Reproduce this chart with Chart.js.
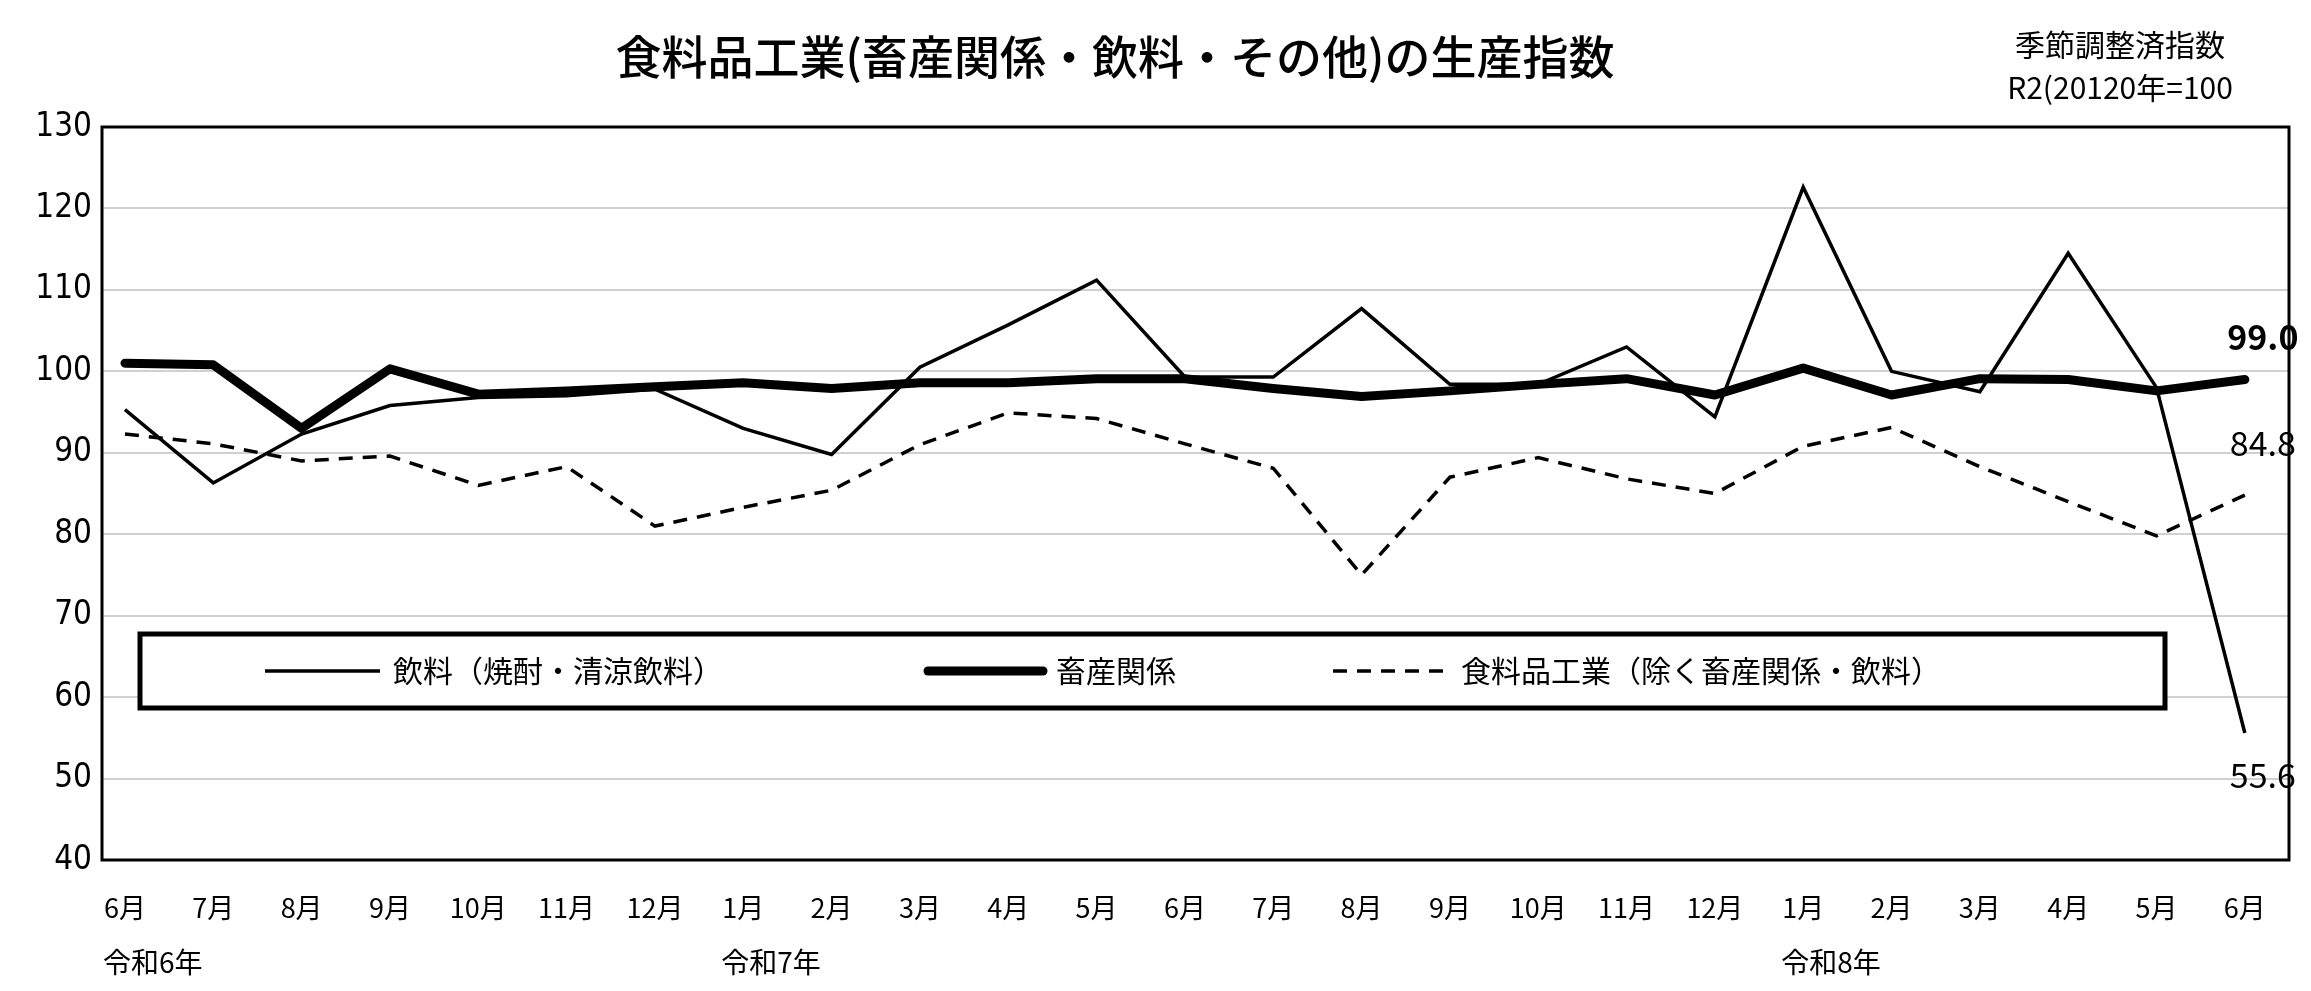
<!DOCTYPE html>
<html><head><meta charset="utf-8">
<script src="https://cdn.jsdelivr.net/npm/chart.js@4"></script>
<style>html,body{margin:0;padding:0;background:#fff}#w{width:2311px;height:991px}</style>
</head><body><div id="w"><canvas id="c"></canvas></div>
<script>
const months = ['6月','7月','8月','9月','10月','11月','12月','1月','2月','3月','4月','5月','6月','7月','8月','9月','10月','11月','12月','1月','2月','3月','4月','5月','6月'];
const yearLabels = [[0,'令和6年'],[7,'令和7年'],[19,'令和8年']];
const drinks = [95.3,86.3,92.3,95.8,96.8,97.0,97.8,93.0,89.8,100.5,105.7,111.2,99.3,99.3,107.7,98.4,98.4,103.0,94.4,122.6,100.0,97.5,114.5,98.0,55.6];
const livestock = [101.0,100.8,93.0,100.3,97.2,97.6,98.1,98.6,97.9,98.6,98.6,99.1,99.1,97.9,96.9,97.6,98.4,99.1,97.1,100.4,97.1,99.1,99.0,97.6,99.0];
const foodOther = [92.3,91.1,89.0,89.6,86.0,88.3,81.0,83.3,85.4,91.0,94.9,94.2,91.1,88.1,75.0,87.0,89.4,86.8,85.0,90.8,93.1,88.3,84.0,79.8,84.8];
const names = ['飲料（焼酎・清涼飲料）','畜産関係','食料品工業（除く畜産関係・飲料）'];
const FONT = '"Noto Sans CJK JP", sans-serif';
const pts = a => a.map((v,i)=>({x:i,y:v}));

const deco = {
  id:'deco',
  afterDraw(ch){
    const c = ch.ctx, a = ch.chartArea, xs = ch.scales.x, ys = ch.scales.y;
    c.save();
    c.strokeStyle='#000'; c.lineWidth=3; c.strokeRect(a.left,a.top,a.right-a.left,a.bottom-a.top);
    c.fillStyle='#000'; c.textBaseline='middle';
    c.font='500 46px '+FONT; c.textAlign='center';
    c.fillText('食料品工業(畜産関係・飲料・その他)の生産指数',1115,57);
    c.font='30px '+FONT;
    c.fillText('季節調整済指数',2120,45); c.fillText('R2(20120年=100',2120,88);
    c.textAlign='left'; c.font='28px '+FONT;
    yearLabels.forEach(([i,t])=>c.fillText(t, xs.getPixelForValue(i)-22, 962));
    const xe = xs.getPixelForValue(24);
    c.textAlign='center'; c.font='bold 34px '+FONT;
    c.fillText(livestock[24].toFixed(1), xe+18, ys.getPixelForValue(livestock[24])-42);
    c.font='34px '+FONT;
    c.fillText(foodOther[24].toFixed(1), xe+18, ys.getPixelForValue(foodOther[24])-52);
    c.fillText(drinks[24].toFixed(1), xe+18, ys.getPixelForValue(drinks[24])+42);
    const L=140, R=2165, T=634, B=708;
    c.fillStyle='#fff'; c.fillRect(L,T,R-L,B-T);
    c.lineWidth=5; c.strokeRect(L,T,R-L,B-T);
    const my=(T+B)/2;
    const items=[[265,3.5,[]],[928,9,[]],[1333,3.5,[14,10]]];
    c.font='30px '+FONT; c.textAlign='left'; c.fillStyle='#000';
    items.forEach(([x,w,d],k)=>{
      c.beginPath(); c.setLineDash(d); c.lineWidth=w; c.lineCap=k===1?'round':'butt';
      c.moveTo(x,my); c.lineTo(x+115,my); c.stroke(); c.setLineDash([]);
      c.fillText(names[k], x+128, my);
    });
    c.restore();
  }
};

new Chart(document.getElementById('c'),{
  type:'line',
  data:{datasets:[
    {label:names[0],data:pts(drinks),borderColor:'#000',borderWidth:3.5,pointRadius:0,tension:0},
    {label:names[1],data:pts(livestock),borderColor:'#000',borderWidth:9,pointRadius:0,tension:0,borderCapStyle:'round',borderJoinStyle:'round'},
    {label:names[2],data:pts(foodOther),borderColor:'#000',borderWidth:3.5,borderDash:[14,10],pointRadius:0,tension:0}
  ]},
  options:{
    responsive:true,maintainAspectRatio:false,animation:false,
    layout:{padding:{top:127,right:22,left:0,bottom:0}},
    plugins:{legend:{display:false},tooltip:{enabled:false},title:{display:false}},
    scales:{
      x:{type:'linear',min:-0.26,max:24.5,
        grid:{display:false,drawTicks:false},border:{display:false},
        afterFit(s){s.height=131;},
        afterBuildTicks(s){s.ticks=months.map((m,i)=>({value:i}));},
        ticks:{autoSkip:false,maxRotation:0,padding:32,color:'#000',font:{family:FONT,size:27},callback:(v)=>months[v]}},
      y:{min:40,max:130,
        grid:{color:'#d0d0d0',lineWidth:2,drawTicks:false},border:{display:false},
        afterFit(s){s.width=102;},
        ticks:{stepSize:10,padding:10,color:'#000',font:{family:'"Liberation Sans Narrow","DejaVu Sans Condensed",sans-serif',size:33}}}
    }
  },
  plugins:[deco]
});
</script></body></html>
